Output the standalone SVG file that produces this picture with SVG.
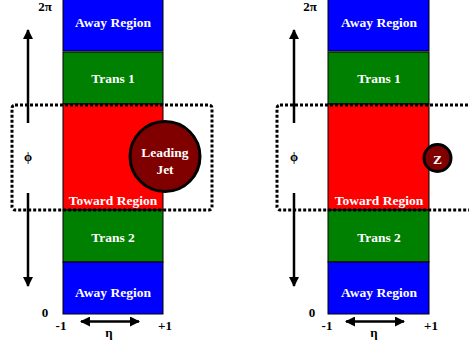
<svg xmlns="http://www.w3.org/2000/svg" width="469" height="346" viewBox="0 0 469 346">
<style>
.t{font-family:"Liberation Serif","Times New Roman",serif;font-weight:bold;fill:#fff;font-size:13.5px;text-anchor:middle}
.k{font-family:"Liberation Serif","Times New Roman",serif;font-weight:bold;fill:#000;font-size:13px;text-anchor:middle}
.blue{fill:#0000ff;stroke:#000;stroke-width:1}
.green{fill:#008000;stroke:#000;stroke-width:1}
.red{fill:#ff0000;stroke:#000;stroke-width:1}
.dot{fill:none;stroke:#000;stroke-width:3;stroke-dasharray:3 2}
.ax{stroke:#000;stroke-width:2.5;fill:none}
.jet{fill:#800000;stroke:#000;stroke-width:3}
</style>
<defs>
<marker id="ah" viewBox="0 0 10 10" refX="9" refY="5" markerWidth="4" markerHeight="4" orient="auto-start-reverse" markerUnits="strokeWidth">
<path d="M0,0 L10,5 L0,10 Z" fill="#000"/>
</marker>
</defs>
<g id="left-panel">
<g id="L-away-top"><rect class="blue" x="63" y="-2" width="100" height="53"/><text class="t" x="113" y="27">Away Region</text></g>
<g id="L-trans1"><rect class="green" x="63" y="52" width="100" height="52"/><text class="t" x="113" y="83">Trans 1</text></g>
<g id="L-toward"><rect class="red" x="63" y="104" width="100" height="106"/><text class="t" x="113" y="205">Toward Region</text></g>
<g id="L-trans2"><rect class="green" x="63" y="210" width="100" height="52"/><text class="t" x="113" y="242">Trans 2</text></g>
<g id="L-away-bot"><rect class="blue" x="63" y="262" width="100" height="52"/><text class="t" x="113" y="297">Away Region</text></g>
<g id="L-jet"><circle class="jet" cx="165" cy="156.5" r="35"/><text class="t" x="165" y="157" font-size="14">Leading</text><text class="t" x="165" y="174" font-size="14">Jet</text></g>
<g id="L-box"><rect class="dot" x="12" y="105" width="200" height="105" rx="3"/></g>
<g id="L-labels">
<text class="k" x="45" y="11" font-size="12">2π</text>
<text class="k" x="28" y="161" font-size="17">ϕ</text>
<text class="k" x="45" y="317">0</text>
<text class="k" x="61" y="330">-1</text>
<text class="k" x="165" y="330">+1</text>
<text class="k" x="109" y="337" font-size="15">η</text>
</g>
</g>
<g id="right-panel">
<g id="R-away-top"><rect class="blue" x="328" y="-2" width="101" height="53"/><text class="t" x="379" y="27">Away Region</text></g>
<g id="R-trans1"><rect class="green" x="328" y="52" width="101" height="52"/><text class="t" x="379" y="83">Trans 1</text></g>
<g id="R-toward"><rect class="red" x="328" y="104" width="101" height="106"/><text class="t" x="379" y="205">Toward Region</text></g>
<g id="R-trans2"><rect class="green" x="328" y="210" width="101" height="52"/><text class="t" x="379" y="242">Trans 2</text></g>
<g id="R-away-bot"><rect class="blue" x="328" y="262" width="101" height="52"/><text class="t" x="379" y="297">Away Region</text></g>
<g id="R-z"><circle class="jet" cx="437.5" cy="158" r="13.5" stroke-width="2.5"/><text class="t" x="437.5" y="163.5" font-size="15">Z</text></g>
<g id="R-box"><rect class="dot" x="277" y="105" width="210" height="105" rx="3"/></g>
<g id="R-labels">
<text class="k" x="310" y="11" font-size="12">2π</text>
<text class="k" x="294" y="161" font-size="17">ϕ</text>
<text class="k" x="312" y="317">0</text>
<text class="k" x="327" y="330">-1</text>
<text class="k" x="431" y="330">+1</text>
<text class="k" x="374" y="337" font-size="15">η</text>
</g>
</g>
<g id="connectors">
<line class="ax" x1="28" y1="123" x2="28" y2="30" marker-end="url(#ah)"/>
<line class="ax" x1="28" y1="193" x2="28" y2="286" marker-end="url(#ah)"/>
<line class="ax" x1="81" y1="321.5" x2="139" y2="321.5" marker-start="url(#ah)" marker-end="url(#ah)"/>
<line class="ax" x1="294" y1="123" x2="294" y2="30" marker-end="url(#ah)"/>
<line class="ax" x1="294" y1="193" x2="294" y2="286" marker-end="url(#ah)"/>
<line class="ax" x1="346" y1="321.5" x2="404" y2="321.5" marker-start="url(#ah)" marker-end="url(#ah)"/>
</g>
</svg>
